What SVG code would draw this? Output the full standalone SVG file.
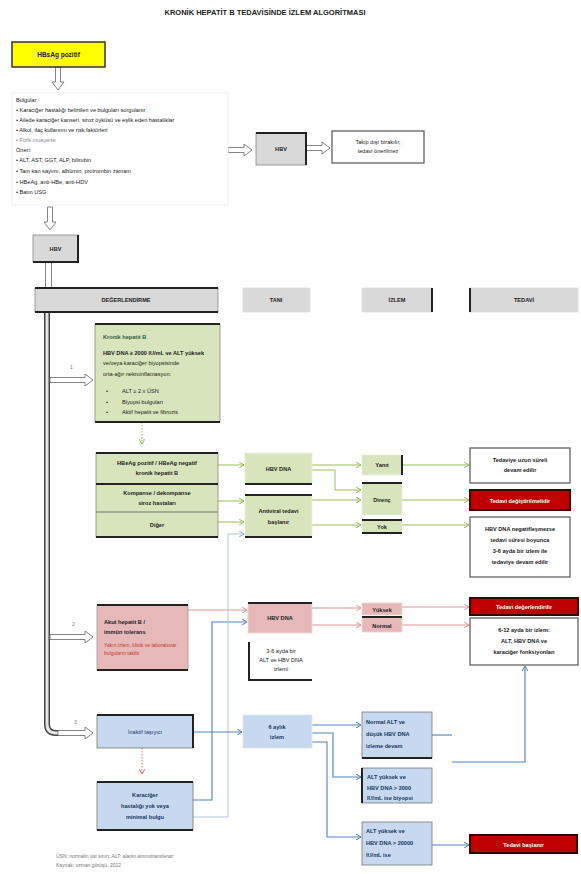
<svg xmlns="http://www.w3.org/2000/svg" width="581" height="874" viewBox="0 0 581 874">
<style>
text{font-family:"Liberation Sans",Arial,sans-serif;font-size:5.6px;fill:#222}
.b{font-weight:bold}
.c{text-anchor:middle}
.w{fill:#fff;font-weight:bold}
.db{fill:#17375e}
.sm{font-size:5px;fill:#777}
.gray{fill:#d9d9d9;stroke:#888;stroke-width:0.8}
.grn{fill:#d7e4bc;stroke:#888;stroke-width:0.8}
.pnk{fill:#e6b9b8;stroke:#999;stroke-width:0.8}
.blu{fill:#c6d9f1;stroke:#777;stroke-width:0.8}
.wht{fill:#fff;stroke:#555;stroke-width:1.2}
.red{fill:#c00000;stroke:#3a0000;stroke-width:2}
.thk{stroke:#222;stroke-width:2;fill:none}
.hol{fill:#fff;stroke:#777;stroke-width:0.9}
.cg{stroke:#9bbb59;stroke-width:1;fill:none}
.cp{stroke:#d99694;stroke-width:1;fill:none}
.cb{stroke:#4f81bd;stroke-width:1.1;fill:none}
.cl{stroke:#b8c4d6;stroke-width:1;fill:none}
</style>
<defs>
<marker id="ag" markerWidth="6" markerHeight="6" refX="5" refY="3" orient="auto" markerUnits="userSpaceOnUse"><path d="M0,0 L5,3 L0,6" fill="none" stroke="#9bbb59" stroke-width="1"/></marker>
<marker id="ap" markerWidth="6" markerHeight="6" refX="5" refY="3" orient="auto" markerUnits="userSpaceOnUse"><path d="M0,0 L5,3 L0,6" fill="none" stroke="#d99694" stroke-width="1"/></marker>
<marker id="ab" markerWidth="6" markerHeight="6" refX="5" refY="3" orient="auto" markerUnits="userSpaceOnUse"><path d="M0,0 L5,3 L0,6" fill="none" stroke="#4f81bd" stroke-width="1"/></marker>
<marker id="al" markerWidth="6" markerHeight="6" refX="5" refY="3" orient="auto" markerUnits="userSpaceOnUse"><path d="M0,0 L5,3 L0,6" fill="none" stroke="#9aa8bd" stroke-width="1"/></marker>
<marker id="ar" markerWidth="6" markerHeight="6" refX="5" refY="3" orient="auto" markerUnits="userSpaceOnUse"><path d="M0,0 L5,3 L0,6" fill="none" stroke="#e07070" stroke-width="1"/></marker>
</defs>
<rect width="581" height="874" fill="#fff"/>
<text x="265" y="15" class="b c" style="font-size:7.5px">KRONİK HEPATİT B TEDAVİSİNDE İZLEM ALGORİTMASI</text>

<g id="connectors">
<!-- hollow arrows -->
<path class="hol" d="M55.5,67 V82 H52 L58,90 L64,82 H60.5 V67 Z"/>
<path class="hol" d="M228,147.5 H244 V144 L252,150 L244,156 V152.5 H228 Z"/>
<path class="hol" d="M306,145.5 H322 V142 L330,148 L322,154 V150.5 H306 Z"/>
<path class="hol" d="M47.5,207 V222 H44 L50,230 L56,222 H52.5 V207 Z"/>
<path class="hol" d="M45.5,262 V288 H51.5 V262 Z"/>
<path d="M47,312 V724 Q47,733 56,733 H60" stroke="#444" stroke-width="6" fill="none"/>
<path d="M47,312 V724 Q47,733 56,733 H60" stroke="#e6e6e6" stroke-width="3" fill="none"/>
<path class="hol" d="M50,377.5 H85 V374 L93,380 L85,386 V382.5 H50 Z"/>
<path class="hol" d="M50,634.5 H85 V631 L93,637 L85,643 V639.5 H50 Z"/>
<path class="hol" d="M58,730.5 H85 V727 L93,733 L85,739 V735.5 H58 Z"/>
<text x="70" y="369" class="sm">1</text>
<text x="72" y="626" class="sm">2</text>
<text x="74" y="724" class="sm">3</text>
<!-- green -->
<path class="cg" d="M142,422 V444" stroke-dasharray="1.5,1.5" marker-end="url(#ag)"/>
<path class="cg" d="M218,465 H244" marker-end="url(#ag)"/>
<path class="cg" d="M218,501 H244" marker-end="url(#ag)"/>
<path class="cg" d="M218,522 H244" marker-end="url(#ag)"/>
<path class="cg" d="M312,465 H361" marker-end="url(#ag)"/>
<path class="cg" d="M312,470 H335 V490 H361" marker-end="url(#ag)"/>
<path class="cg" d="M312,500 H361" marker-end="url(#ag)"/>
<path class="cg" d="M312,525 H361" marker-end="url(#ag)"/>
<path class="cg" d="M402,465 H469" marker-end="url(#ag)"/>
<path class="cg" d="M402,500 H469" marker-end="url(#ag)"/>
<path class="cg" d="M402,525 H469" marker-end="url(#ag)"/>
<!-- pink -->
<path class="cp" d="M188,610 H247" marker-end="url(#ap)"/>
<path class="cp" d="M312,608 H361" marker-end="url(#ap)"/>
<path class="cp" d="M312,625 H361" marker-end="url(#ap)"/>
<path class="cp" d="M402,607 H469" marker-end="url(#ap)"/>
<path class="cp" d="M402,625 H469" marker-end="url(#ap)"/>
<!-- blue / light -->
<path class="cb" d="M193,800 H212 V622 H247" marker-end="url(#ab)"/>
<path class="cl" d="M193,817 H228 V534 H244" marker-end="url(#al)"/>
<path d="M142,748 V774" stroke="#e07070" stroke-width="0.9" stroke-dasharray="1.5,1.5" fill="none" marker-end="url(#ar)"/>
<path class="cb" d="M193,732 H242" marker-end="url(#ab)"/>
<path class="cb" d="M312,725 H361" marker-end="url(#ab)"/>
<path class="cb" d="M312,733 H333 V777 H361" marker-end="url(#ab)"/>
<path class="cb" d="M312,742 H327 V837 H361" marker-end="url(#ab)"/>
<path class="cb" d="M432,735 H452"/>
<path class="cb" d="M452,762 H525 V666" marker-end="url(#ab)"/>
<path class="cb" d="M432,845 H469" marker-end="url(#ab)"/>
</g>

<g id="start">
<rect x="12" y="42" width="93" height="25" fill="#ffff00" stroke="#333" stroke-width="1.5"/>
<text x="58.5" y="57" class="c b" style="font-size:6.5px">HBsAg pozitif</text>
</g>

<g id="info">
<rect x="12" y="93" width="216" height="112" fill="#fff" stroke="#eee" stroke-width="0.8"/>
<text x="16" y="102">Bulgular:</text>
<text x="16" y="112">• Karaciğer hastalığı belirtileri ve bulguları sorgulanır</text>
<text x="16" y="122">• Ailede karaciğer kanseri, siroz öyküsü ve eşlik eden hastalıklar</text>
<text x="16" y="132">• Alkol, ilaç kullanımı ve risk faktörleri</text>
<text x="16" y="142" style="fill:#889">• Fizik muayene</text>
<text x="16" y="152">Öneri:</text>
<text x="16" y="162">• ALT, AST, GGT, ALP, bilirubin</text>
<text x="16" y="173">• Tam kan sayımı, albümin, protrombin zamanı</text>
<text x="16" y="184">• HBeAg, anti-HBe, anti-HDV</text>
<text x="16" y="194">• Batın USG</text>
</g>

<g id="pcr1">
<rect class="gray" x="256" y="133" width="50" height="32"/>
<path class="thk" d="M256,133 H306 V165"/>
<text x="281" y="151" class="c b">HBV</text>
</g>
<g id="note1">
<rect class="wht" x="332" y="131" width="92" height="32"/>
<text x="378" y="144" class="c">Takip dışı bırakılır,</text>
<text x="378" y="153" class="c">tedavi önerilmez</text>
</g>
<g id="pcr2">
<rect class="gray" x="33" y="235" width="45" height="27"/>
<path class="thk" d="M33,262 H78 V235"/>
<text x="55.5" y="251" class="c b">HBV</text>
</g>

<g id="headers">
<rect class="gray" x="35" y="288" width="183" height="24"/>
<path class="thk" d="M35,288 H218 M35,312 H218"/>
<text x="126" y="302" class="c b">DEĞERLENDİRME</text>
<rect class="gray" x="243" y="288" width="67" height="24" style="stroke:#ddd"/>
<text x="276" y="302" class="c b">TANI</text>
<rect class="gray" x="362" y="288" width="70" height="24" style="stroke:#ddd"/>
<path class="thk" d="M432,288 V312"/>
<text x="397" y="302" class="c b">İZLEM</text>
<rect class="gray" x="470" y="288" width="108" height="24" style="stroke:#ddd"/>
<path class="thk" d="M470,288 V312"/>
<text x="524" y="302" class="c b">TEDAVİ</text>
</g>

<g id="green-main">
<rect class="grn" x="95" y="324" width="125" height="98"/>
<path class="thk" d="M95,324 H220 M95,422 H220"/>
<text x="103" y="339" class="b" style="fill:#2f5f3f">Kronik hepatit B</text>
<text x="103" y="355" class="b">HBV DNA ≥ 2000 IU/mL ve ALT yüksek</text>
<text x="103" y="365">ve/veya karaciğer biyopsisinde</text>
<text x="103" y="376">orta-ağır nekroinflamasyon:</text>
<text x="106" y="393">•</text><text x="122" y="393">ALT ≥ 2 x ÜSN</text>
<text x="106" y="404">•</text><text x="122" y="404">Biyopsi bulguları</text>
<text x="106" y="414">•</text><text x="122" y="414">Aktif hepatit ve fibrozis</text>
</g>

<g id="green-rows">
<rect class="grn" x="96" y="453" width="122" height="84"/>
<path class="thk" d="M96,453 H218 M96,484 H218 M96,537 H218"/>
<path d="M96,512 H218" stroke="#555" stroke-width="0.8"/>
<text x="157" y="465" class="c b">HBeAg pozitif / HBeAg negatif</text>
<text x="157" y="475" class="c b">kronik hepatit B</text>
<text x="157" y="495" class="c b">Kompanse / dekompanse</text>
<text x="157" y="505" class="c b">siroz hastaları</text>
<text x="157" y="527" class="c b">Diğer</text>
</g>
<g id="g-hbv">
<rect class="grn" x="245" y="453" width="67" height="31" style="stroke:#e8eedd"/>
<path class="thk" d="M245,484 H312"/>
<text x="278.5" y="471" class="c b">HBV DNA</text>
</g>
<g id="g-tx">
<rect class="grn" x="245" y="495" width="67" height="42" style="stroke:#e8eedd"/>
<path class="thk" d="M245,495 H312 M245,537 H312"/>
<text x="278.5" y="513" class="c b">Antiviral tedavi</text>
<text x="278.5" y="524" class="c b">başlanır</text>
</g>
<g id="g-s1">
<rect class="grn" x="362" y="455" width="40" height="20" style="stroke:#e8eedd"/>
<path class="thk" d="M402,455 V475"/>
<text x="382" y="467" class="c b">Yanıt</text>
</g>
<g id="g-s2">
<rect class="grn" x="362" y="483" width="40" height="32" style="stroke:#e8eedd"/>
<path class="thk" d="M362,483 H402"/>
<text x="382" y="502" class="c b">Direnç</text>
</g>
<g id="g-s3">
<rect class="grn" x="362" y="520" width="40" height="13" style="stroke:#e8eedd"/>
<path class="thk" d="M362,520 H402 M362,533 H402"/>
<text x="382" y="529" class="c b">Yok</text>
</g>
<g id="g-r1">
<rect class="wht" x="470" y="448" width="100" height="35"/>
<text x="520" y="462" class="c b">Tedaviye uzun süreli</text>
<text x="520" y="472" class="c b">devam edilir</text>
</g>
<g id="g-r2">
<rect class="red" x="470" y="490" width="100" height="20"/>
<text x="520" y="502.5" class="c w">Tedavi değiştirilmelidir</text>
</g>
<g id="g-r3">
<rect class="wht" x="470" y="517" width="100" height="60"/>
<text x="520" y="531" class="c b">HBV DNA negatifleşmezse</text>
<text x="520" y="542" class="c b">tedavi süresi boyunca</text>
<text x="520" y="553" class="c b">3-6 ayda bir izlem ile</text>
<text x="520" y="564" class="c b">tedaviye devam edilir</text>
</g>

<g id="pink-main">
<rect class="pnk" x="97" y="605" width="91" height="65"/>
<path class="thk" d="M97,605 H188 M97,670 H188"/>
<text x="104" y="624" class="b">Akut hepatit B /</text>
<text x="104" y="634" class="b">immün tolerans</text>
<text x="104" y="647" style="fill:#c0392b;font-size:5px">Yakın izlem, klinik ve laboratuvar</text>
<text x="104" y="655" style="fill:#c0392b;font-size:5px">bulguların takibi</text>
</g>
<g id="p-hbv">
<rect class="pnk" x="248" y="603" width="64" height="30" style="stroke:#f0d6d6"/>
<path class="thk" d="M248,603 H312"/>
<text x="280" y="620" class="c b">HBV DNA</text>
</g>
<g id="p-note">
<rect x="248" y="642" width="64" height="38" fill="#fff"/>
<path class="thk" d="M249,642 V680 H312"/>
<text x="281" y="653" class="c">3-6 ayda bir</text>
<text x="281" y="662" class="c">ALT ve HBV DNA</text>
<text x="281" y="671" class="c">izlemi</text>
</g>
<g id="p-s1">
<rect class="pnk" x="362" y="603" width="40" height="12" style="stroke:#f0d6d6"/>
<text x="382" y="611.5" class="c b">Yüksek</text>
</g>
<g id="p-s2">
<rect class="pnk" x="362" y="618" width="40" height="14" style="stroke:#f0d6d6"/>
<path class="thk" d="M362,617 H402"/>
<text x="382" y="627.5" class="c b">Normal</text>
</g>
<g id="p-r1">
<rect class="red" x="470" y="598" width="108" height="17"/>
<text x="524" y="609" class="c w">Tedavi değerlendirilir</text>
</g>
<g id="p-r2">
<rect class="wht" x="470" y="618" width="108" height="47"/>
<text x="524" y="632" class="c b">6-12 ayda bir izlem:</text>
<text x="524" y="643" class="c b">ALT, HBV DNA ve</text>
<text x="524" y="654" class="c b">karaciğer fonksiyonları</text>
</g>

<g id="blue-main">
<rect class="blu" x="97" y="715" width="96" height="33"/>
<path class="thk" d="M97,715 H193 V748"/>
<text x="145" y="734" class="c db">İnaktif taşıyıcı</text>
</g>
<g id="blue-2">
<rect class="blu" x="97" y="782" width="96" height="48"/>
<path class="thk" d="M97,782 H193 M97,830 H193"/>
<text x="145" y="797" class="c b db">Karaciğer</text>
<text x="145" y="808" class="c b db">hastalığı yok veya</text>
<text x="145" y="819" class="c b db">minimal bulgu</text>
</g>
<g id="b-mid">
<rect class="blu" x="243" y="715" width="69" height="33" style="stroke:#dde6f2"/>
<text x="277" y="729" class="c b db">6 aylık</text>
<text x="277" y="739" class="c b db">izlem</text>
</g>
<g id="b-r1">
<rect class="blu" x="362" y="712" width="70" height="46"/>
<path class="thk" d="M362,758 H432"/>
<text x="366" y="724" class="b db">Normal ALT ve</text>
<text x="366" y="736" class="b db">düşük HBV DNA</text>
<text x="366" y="748" class="b db">izleme devam</text>
</g>
<g id="b-r2">
<rect class="blu" x="362" y="768" width="70" height="35"/>
<path class="thk" d="M362,768 V803"/>
<text x="367" y="779" class="b db">ALT yüksek ve</text>
<text x="367" y="790" class="b db">HBV DNA &gt; 2000</text>
<text x="367" y="800" class="b db">IU/mL ise biyopsi</text>
</g>
<g id="b-r3">
<rect class="blu" x="362" y="822" width="70" height="43"/>
<text x="366" y="833" class="b db">ALT yüksek ve</text>
<text x="366" y="845" class="b db">HBV DNA &gt; 20000</text>
<text x="366" y="857" class="b db">IU/mL ise</text>
</g>
<g id="b-red">
<rect class="red" x="470" y="835" width="107" height="18"/>
<text x="523.5" y="846.5" class="c w">Tedavi başlanır</text>
</g>

<text x="56" y="858" class="sm">ÜSN: normalin üst sınırı; ALT: alanin aminotransferaz</text>
<text x="56" y="867" class="sm">Kaynak: uzman görüşü, 2012</text>
</svg>
